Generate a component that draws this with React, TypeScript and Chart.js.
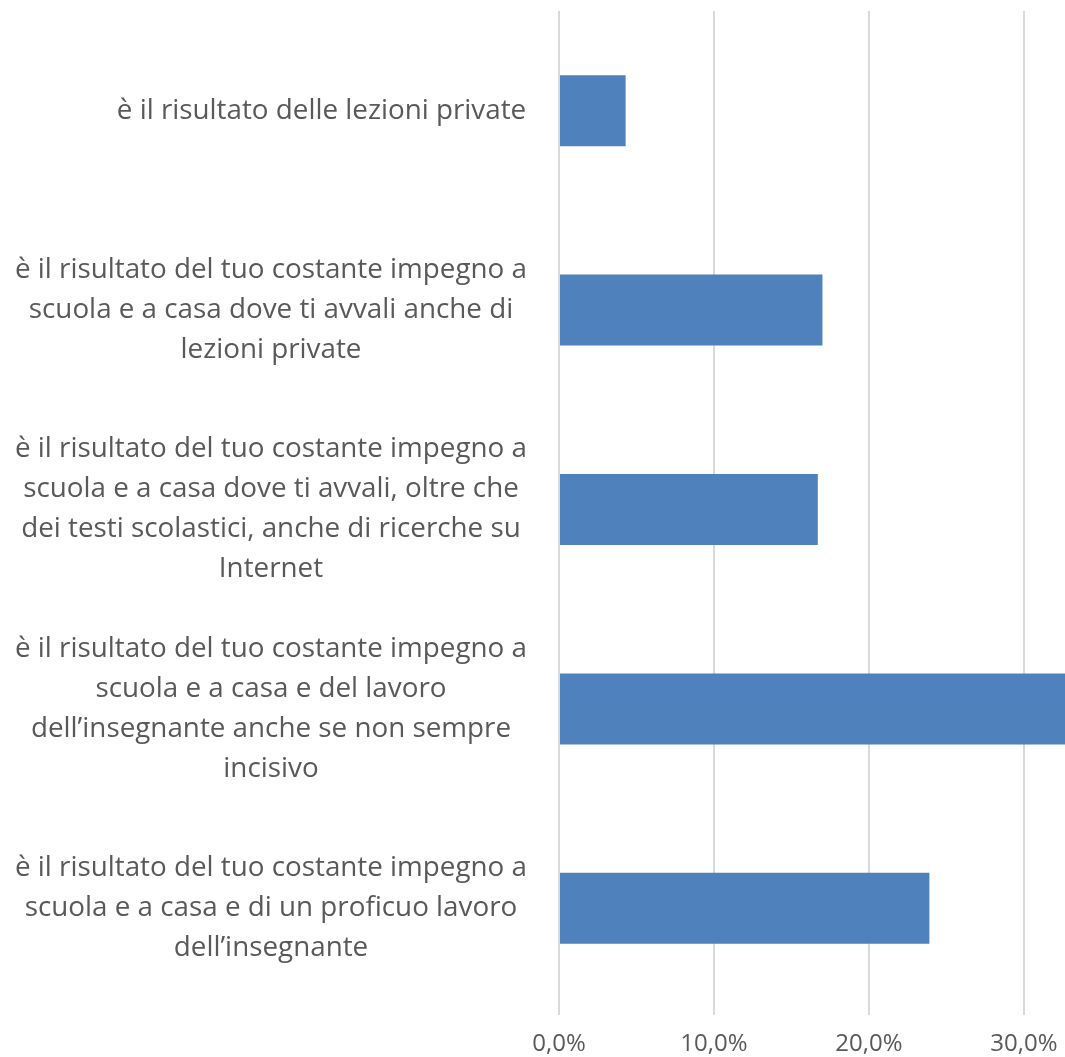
import React, { useEffect, useRef } from 'react';
import { Chart, registerables } from 'chart.js';

Chart.register(...registerables);

const categories: string[][] = [
  ['è il risultato delle lezioni private'],
  ['è il risultato del tuo costante impegno a', 'scuola e a casa dove ti avvali anche di', 'lezioni private'],
  ['è il risultato del tuo costante impegno a', 'scuola e a casa dove ti avvali, oltre che', 'dei testi scolastici, anche di ricerche su', 'Internet'],
  ['è il risultato del tuo costante impegno a', 'scuola e a casa e del lavoro', 'dell’insegnante anche se non sempre', 'incisivo'],
  ['è il risultato del tuo costante impegno a', 'scuola e a casa e di un proficuo lavoro', 'dell’insegnante'],
];
const values: number[] = [4.3, 17.0, 16.7, 34.0, 23.9];
const xTickValues: number[] = [0, 10, 20, 30];
const xMin = 0;
const xMax = 32.65;

const FONT_FAMILY = '"Open Sans", "DejaVu Sans", sans-serif';
const CAT_FONT_SIZE = 27.8;
const TICK_FONT_SIZE = 24;
const TEXT_COLOR = '#595959';
const GRID_COLOR = '#d9d9d9';
const BAR_COLOR = '#4f81bd';

// Excel keeps a wrapped label's lines centred on one another but pushes the
// whole block to the right; a single-line label is padded so it ends where the
// widest block ends.
function alignedLabels(): (string | string[])[] {
  const c = document.createElement('canvas').getContext('2d');
  if (!c) return categories;
  c.font = `${CAT_FONT_SIZE}px ${FONT_FAMILY}`;
  let widest = 0;
  categories.forEach((lines) => lines.forEach((l) => { widest = Math.max(widest, c.measureText(l).width); }));
  const space = c.measureText(' ').width || 6;
  return categories.map((lines) => {
    if (lines.length !== 1) return lines;
    const w = c.measureText(lines[0]).width;
    const n = Math.max(0, Math.round((widest - w) / space));
    return ' '.repeat(n) + lines[0];
  });
}

export default function App() {
  const ref = useRef<HTMLCanvasElement | null>(null);

  useEffect(() => {
    if (!ref.current) return;
    const labels = alignedLabels();
    const chart = new Chart(ref.current, {
      type: 'bar',
      data: {
        labels,
        datasets: [
          {
            data: values,
            backgroundColor: BAR_COLOR,
            borderWidth: 0,
            barPercentage: 0.356,
            categoryPercentage: 1,
          },
        ],
      },
      options: {
        indexAxis: 'y',
        animation: false,
        responsive: false,
        maintainAspectRatio: false,
        layout: { padding: { top: 11, left: 0, right: 0, bottom: 0 } },
        plugins: {
          legend: { display: false },
          tooltip: { enabled: false },
          title: { display: false },
        },
        scales: {
          x: {
            type: 'linear',
            position: 'bottom',
            min: xMin,
            max: xMax,
            afterBuildTicks: (scale: any) => {
              scale.ticks = xTickValues.map((v) => ({ value: v }));
            },
            afterFit: (scale: any) => {
              scale.height = 49;
              scale.paddingLeft = 0;
              scale.paddingRight = 0;
            },
            grid: {
              color: GRID_COLOR,
              lineWidth: 2,
              drawTicks: true,
              tickLength: 7,
              tickColor: GRID_COLOR,
              tickWidth: 2,
            },
            border: { display: false },
            ticks: {
              includeBounds: false,
              maxRotation: 0,
              autoSkip: false,
              padding: 15,
              color: TEXT_COLOR,
              font: { family: FONT_FAMILY, size: TICK_FONT_SIZE, lineHeight: 1.2 },
              callback: (v: any) => Number(v).toFixed(1).replace('.', ',') + '%',
            },
          },
          y: {
            type: 'category',
            position: 'left',
            offset: true,
            afterFit: (scale: any) => {
              scale.width = 559;
              scale.paddingTop = 0;
              scale.paddingBottom = 0;
            },
            grid: { display: false, drawTicks: false },
            border: { display: false },
            ticks: {
              crossAlign: 'center',
              padding: 32,
              autoSkip: false,
              color: TEXT_COLOR,
              font: { family: FONT_FAMILY, size: CAT_FONT_SIZE, lineHeight: '40px' as any },
            },
          },
        },
      },
    });
    return () => chart.destroy();
  }, []);

  return (
    <div style={{ position: 'absolute', left: 0, top: 0, width: 1065, height: 1057, background: '#ffffff' }}>
      <canvas ref={ref} width={1065} height={1057} style={{ display: 'block', width: 1065, height: 1057 }} />
    </div>
  );
}
